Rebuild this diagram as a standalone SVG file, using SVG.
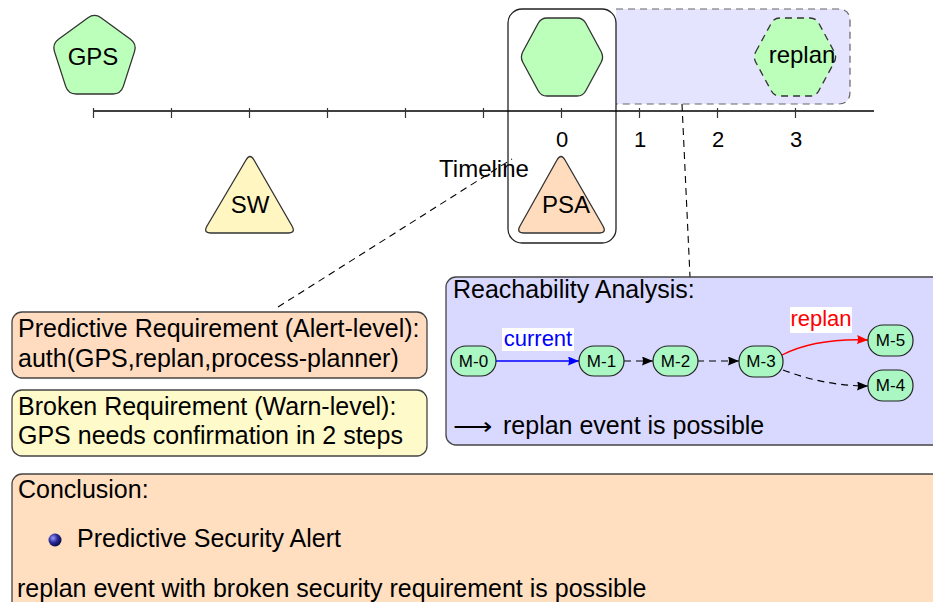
<svg xmlns="http://www.w3.org/2000/svg" width="933" height="602" viewBox="0 0 933 602">
  <style>
    text { font-family: "Liberation Sans", Arial, Helvetica, sans-serif; fill: #000; }
    .big { font-size: 25px; }
    .tick { font-size: 22px; text-anchor: middle; }
    .lbl { font-size: 24px; text-anchor: middle; }
    .mtxt { font-size: 17px; text-anchor: middle; }
    .shape { stroke: #333; stroke-width: 1.3; }
    .green { fill: #bbffbb; }
    .mnode { fill: #aaf7c4; stroke: #222; stroke-width: 1.2; }
    .box { stroke: #444; stroke-width: 1.3; }
    .dash { fill: none; stroke: #000; stroke-width: 1.1; stroke-dasharray: 7 5; }
  </style>
  <defs>
    <marker id="ah-black" markerUnits="userSpaceOnUse" markerWidth="12" markerHeight="10" refX="11" refY="4.5" orient="auto">
      <path d="M0,0 L11,4.5 L0,9 Q2,4.5 0,0 Z" fill="#000"/>
    </marker>
    <marker id="ah-blue" markerUnits="userSpaceOnUse" markerWidth="12" markerHeight="10" refX="11" refY="4.5" orient="auto">
      <path d="M0,0 L11,4.5 L0,9 Q2,4.5 0,0 Z" fill="#0000ff"/>
    </marker>
    <marker id="ah-red" markerUnits="userSpaceOnUse" markerWidth="12" markerHeight="10" refX="11" refY="4.5" orient="auto">
      <path d="M0,0 L11,4.5 L0,9 Q2,4.5 0,0 Z" fill="#ff0000"/>
    </marker>
    <radialGradient id="ball" cx="0.35" cy="0.35" r="0.7">
      <stop offset="0" stop-color="#9a9aff"/>
      <stop offset="0.5" stop-color="#2a2a9a"/>
      <stop offset="1" stop-color="#0a0a40"/>
    </radialGradient>
    <path id="hex" d="M -39.2,-5.3 L -23.8,-33.7 Q -21,-39 -15,-39 L 15,-39 Q 21,-39 23.8,-33.7 L 39.2,-5.3 Q 42,0 39.2,5.3 L 23.8,33.7 Q 21,39 15,39 L -15,39 Q -21,39 -23.8,33.7 L -39.2,5.3 Q -42,0 -39.2,-5.3 Z"/>
  </defs>

  <!-- prediction window (dashed, shaded) -->
  <g id="window">
    <path d="M 616,9 L 838,9 Q 850,9 850,21 L 850,92 Q 850,104 838,104 L 616,104" fill="#e4e4ff" stroke="#666" stroke-width="1.2" stroke-dasharray="7 5"/>
  </g>

  <!-- current-time frame -->
  <g id="now-frame">
    <rect x="508" y="9" width="108" height="234" rx="14" fill="#fff" stroke="#222" stroke-width="1.3"/>
  </g>

  <!-- timeline axis -->
  <g id="timeline">
    <line x1="93" y1="111" x2="874" y2="111" stroke="#000" stroke-width="1.3"/>
    <g stroke="#333" stroke-width="1.2">
      <line x1="93.5" y1="108" x2="93.5" y2="118"/>
      <line x1="171.5" y1="108" x2="171.5" y2="118"/>
      <line x1="249.5" y1="108" x2="249.5" y2="118"/>
      <line x1="327.5" y1="108" x2="327.5" y2="118"/>
      <line x1="405.5" y1="108" x2="405.5" y2="118"/>
      <line x1="483.5" y1="108" x2="483.5" y2="118"/>
      <line x1="561.5" y1="108" x2="561.5" y2="118"/>
      <line x1="639.5" y1="108" x2="639.5" y2="118"/>
      <line x1="717.5" y1="108" x2="717.5" y2="118"/>
      <line x1="795.5" y1="108" x2="795.5" y2="118"/>
    </g>
    <text class="tick" x="562" y="147">0</text>
    <text class="tick" x="640" y="147">1</text>
    <text class="tick" x="718" y="147">2</text>
    <text class="tick" x="796" y="147">3</text>
    <text class="lbl" x="484" y="177">Timeline</text>
  </g>

  <!-- event nodes -->
  <g id="gps">
    <path class="shape green" d="M 101,17.7 L 130.5,39.3 Q 137,44 134.5,51.6 L 123.3,86.4 Q 120.8,94 112.8,94 L 76.2,94 Q 68.2,94 65.7,86.4 L 54.5,51.6 Q 52,44 58.5,39.3 L 88,17.7 Q 94.5,13 101,17.7 Z"/>
    <text class="lbl" x="93" y="65">GPS</text>
  </g>
  <g id="sw">
    <path class="shape" fill="#fff6c2" d="M 246,160 Q 250,153 254,160 L 292,226 Q 296,233 288,233 L 211,233 Q 203,233 207,226 Z"/>
    <text class="lbl" x="250" y="213">SW</text>
  </g>
  <g id="now-event">
    <use href="#hex" x="562" y="57" class="shape green"/>
  </g>
  <g id="psa">
    <path class="shape" fill="#ffdcbd" d="M 557,160 Q 561,153 565,160 L 603,226 Q 607,233 599,233 L 524,233 Q 516,233 520,226 Z"/>
    <text class="lbl" x="566" y="213">PSA</text>
  </g>
  <g id="replan-event">
    <use href="#hex" x="795" y="57" fill="#bbffbb" stroke="#333" stroke-width="1.3" stroke-dasharray="7 5"/>
    <text class="lbl" x="802" y="63">replan</text>
  </g>

  <!-- callout connectors -->
  <g id="connectors">
    <line class="dash" x1="278" y1="307" x2="512" y2="159"/>
    <line class="dash" x1="682" y1="104" x2="690" y2="277"/>
  </g>

  <!-- requirement boxes -->
  <g id="predictive-req">
    <rect class="box" x="12" y="312" width="415" height="66" rx="10" fill="#ffdcc0"/>
    <text class="big" x="18" y="337">Predictive Requirement (Alert-level):</text>
    <text class="big" x="18" y="367">auth(GPS,replan,process-planner)</text>
  </g>
  <g id="broken-req">
    <rect class="box" x="12" y="390" width="415" height="66" rx="10" fill="#fffac9"/>
    <text class="big" x="18" y="415">Broken Requirement (Warn-level):</text>
    <text class="big" x="18" y="444">GPS needs confirmation in 2 steps</text>
  </g>

  <!-- reachability analysis panel -->
  <g id="reachability">
    <rect class="box" x="446" y="277" width="500" height="168" rx="10" fill="#d9d9ff"/>
    <text class="big" x="453" y="298">Reachability Analysis:</text>
    <text x="453" y="434" font-family="DejaVu Sans, sans-serif" font-size="22" textLength="40" lengthAdjust="spacingAndGlyphs">⟶</text>
    <text class="big" x="503" y="434">replan event is possible</text>
  </g>

  <g id="state-edges">
    <line x1="495" y1="361" x2="579" y2="361" stroke="#0000ff" stroke-width="1.4" marker-end="url(#ah-blue)"/>
    <line x1="624" y1="361" x2="653" y2="361" stroke="#000" stroke-width="1.2" stroke-dasharray="7 5" marker-end="url(#ah-black)"/>
    <line x1="697" y1="361" x2="739" y2="361" stroke="#000" stroke-width="1.2" stroke-dasharray="7 5" marker-end="url(#ah-black)"/>
    <path d="M 782,355 Q 815.5,338 868,340" fill="none" stroke="#ff0000" stroke-width="1.4" marker-end="url(#ah-red)"/>
    <path d="M 783,370 Q 825,386 868,386" fill="none" stroke="#000" stroke-width="1.2" stroke-dasharray="7 5" marker-end="url(#ah-black)"/>
    <rect x="502" y="328" width="72" height="23" fill="#fff"/>
    <text x="538" y="346" font-size="22" text-anchor="middle" style="fill:#0000ff">current</text>
    <rect x="790" y="307" width="62" height="26" fill="#fff"/>
    <text x="821" y="326" font-size="22" text-anchor="middle" style="fill:#ff0000">replan</text>
  </g>

  <g id="m0"><rect class="mnode" x="451" y="346" width="45" height="30" rx="15"/><text class="mtxt" x="473.5" y="367">M-0</text></g>
  <g id="m1"><rect class="mnode" x="579" y="346" width="45" height="30" rx="15"/><text class="mtxt" x="601.5" y="367">M-1</text></g>
  <g id="m2"><rect class="mnode" x="653" y="346" width="45" height="30" rx="15"/><text class="mtxt" x="675.5" y="367">M-2</text></g>
  <g id="m3"><rect class="mnode" x="739" y="346" width="44" height="31" rx="15"/><text class="mtxt" x="761" y="367">M-3</text></g>
  <g id="m5"><rect class="mnode" x="868" y="325" width="45" height="31" rx="15"/><text class="mtxt" x="890.5" y="346">M-5</text></g>
  <g id="m4"><rect class="mnode" x="868" y="370" width="45" height="31" rx="15"/><text class="mtxt" x="890.5" y="391">M-4</text></g>

  <!-- conclusion panel -->
  <g id="conclusion">
    <rect class="box" x="12" y="474" width="940" height="150" rx="10" fill="#ffdfc0"/>
    <text class="big" x="18" y="498">Conclusion:</text>
    <circle cx="55" cy="540" r="6.5" fill="url(#ball)"/>
    <text class="big" x="77" y="547">Predictive Security Alert</text>
    <text class="big" x="17" y="597">replan event with broken security requirement is possible</text>
  </g>
</svg>
